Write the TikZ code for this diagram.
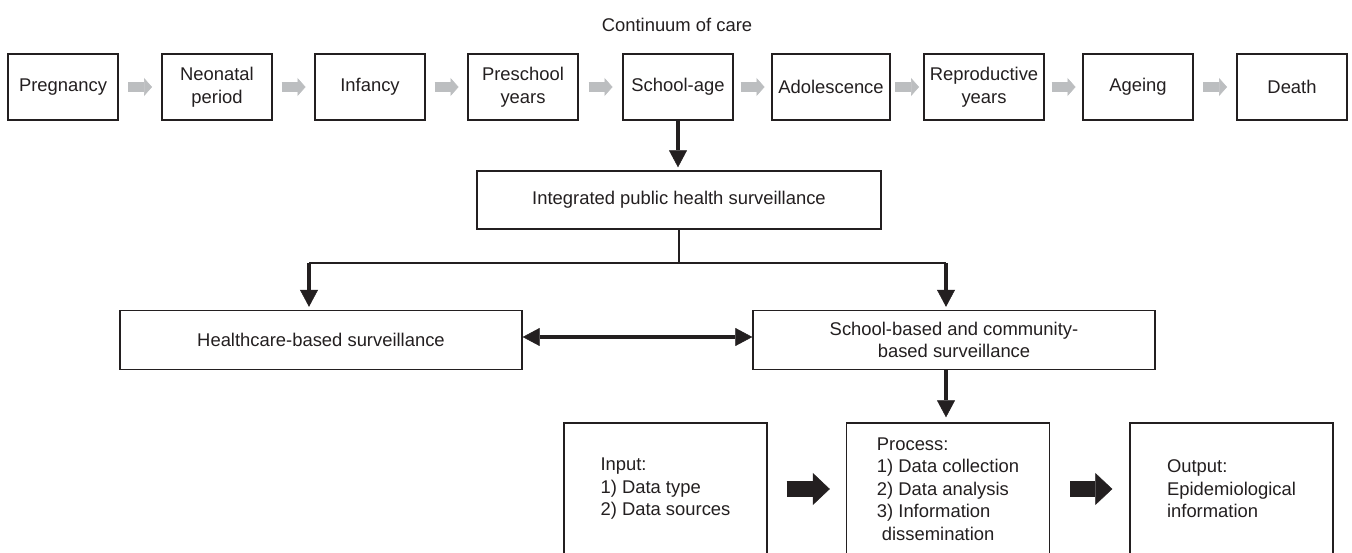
\documentclass[tikz,border=0pt]{standalone}
\usepackage{fontspec}
\setmainfont{Liberation Sans}
\usetikzlibrary{arrows.meta,calc}
\definecolor{ink}{HTML}{231F20}
\definecolor{lgray}{HTML}{BCBEC0}
\begin{document}
\begin{tikzpicture}[x=1pt,y=-1pt,
  box/.style={draw=ink, line width=1.4pt, text=ink, align=center, inner sep=0pt,
    font=\fontsize{18.4}{22.5}\selectfont},
  stagebox/.style={box, minimum height=66pt, minimum width=110pt},
  ipobox/.style={box, align=left, minimum width=203pt, minimum height=132pt},
  garrow/.style={draw=lgray, line width=10pt, -{Triangle[width=18pt,length=8pt,line width=0.5pt]}},
  karrow/.style={draw=ink, line width=4.5pt, -{Triangle[width=18pt,length=17pt,line width=0.5pt]}},
  dkarrow/.style={draw=ink, line width=4.5pt,
    {Triangle[width=18pt,length=17pt,line width=0.5pt]}-{Triangle[width=18pt,length=17pt,line width=0.5pt]}},
  blockarrow/.style={draw=ink, line width=16pt, -{Triangle[width=32pt,length=17pt,line width=0.5pt]}},
  thinline/.style={draw=ink, line width=1.2pt}]
\clip (0,0) rectangle (1352,553);
\fill[white] (0,0) rectangle (1352,553);

\node[text=ink, font=\fontsize{18.4}{22.5}\selectfont] (title) at (677,25) {Continuum of care};

\node[stagebox] (preg) at (63,87) {Pregnancy};
\node[stagebox] (neo) at (217,87) {Neonatal\\period};
\node[stagebox] (inf) at (370,87) {Infancy};
\node[stagebox] (pre) at (523,87) {Preschool\\years};
\node[stagebox] (school) at (678,87) {School-age};
\node[stagebox, minimum width=118pt] (adol) at (831,87) {Adolescence};
\node[stagebox, minimum width=120pt] (repro) at (984,87) {Reproductive\\years};
\node[stagebox] (age) at (1138,87) {Ageing};
\node[stagebox] (death) at (1292,87) {Death};

\foreach \a/\b in {preg/neo, neo/inf, inf/pre, pre/school, school/adol, adol/repro, repro/age, age/death}{
  \coordinate (m-\a) at ($(\a.east)!0.5!(\b.west)$);
  \draw[garrow] ([xshift=-12pt]m-\a) -- ([xshift=12pt]m-\a);
}

\node[box, minimum width=404pt, minimum height=58pt] (integ) at (679,200) {Integrated public health surveillance};
\node[box, minimum width=402pt, minimum height=59pt] (hc) at (321,340) {Healthcare-based surveillance};
\node[box, minimum width=402pt, minimum height=59pt] (sb) at (954,340) {School-based and community-\\based surveillance};

\node[ipobox] (inp) at (665.5,489) {Input:\\1) Data type\\2) Data sources};
\node[ipobox] (proc) at (948,489) {Process:\\1) Data collection\\2) Data analysis\\3) Information\\\hspace*{5pt}dissemination};
\node[ipobox] (out) at (1231.5,489) {Output:\\Epidemiological\\information};

\coordinate (jl) at (309,263);
\coordinate (jr) at (946,263);

\draw[karrow, shorten >=3pt] (school.south) -- (school.south |- integ.north);
\draw[thinline] (integ.south) -- (integ.south |- jl);
\draw[thinline] (jl) -- (jr);
\draw[karrow, shorten >=3pt] (jl) -- (jl |- hc.north);
\draw[karrow, shorten >=3pt] (jr) -- (jr |- sb.north);
\draw[dkarrow] ([yshift=3pt]hc.east) -- ([yshift=3pt]sb.west);
\draw[karrow, shorten >=5pt] (jr |- sb.south) -- (jr |- proc.north);
\draw[blockarrow, shorten <=19pt, shorten >=16pt] (inp.east) -- (proc.west);
\draw[blockarrow, shorten <=20pt, shorten >=17pt] (proc.east) -- (out.west);
\end{tikzpicture}
\end{document}
